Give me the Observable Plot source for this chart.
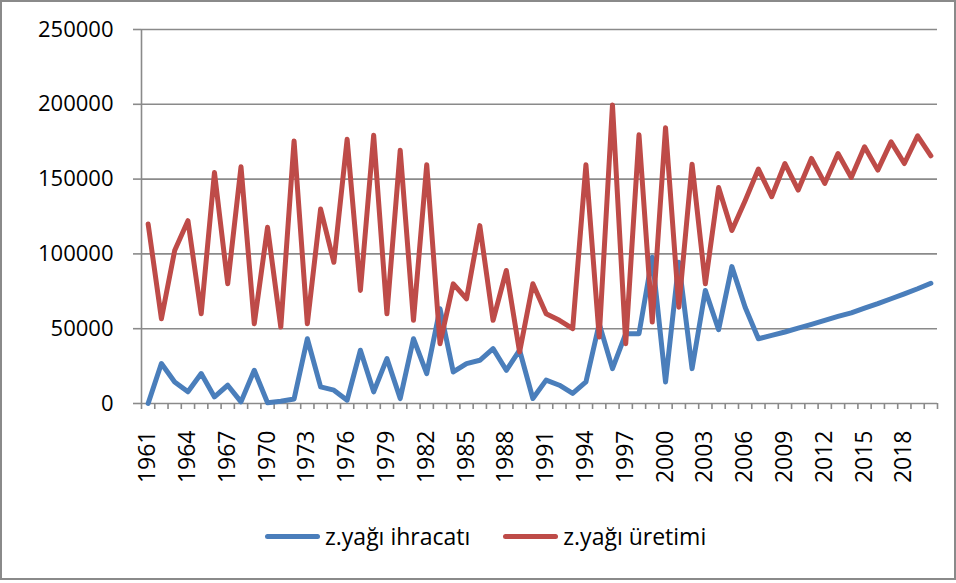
<!DOCTYPE html>
<html>
<head>
<meta charset="utf-8">
<script src="https://cdn.jsdelivr.net/npm/d3@7"></script>
<script src="https://cdn.jsdelivr.net/npm/@observablehq/plot@0.6"></script>
<style>
  html, body { margin: 0; padding: 0; background: #fff; }
  #frame {
    position: absolute; left: 0; top: 0;
    width: 956px; height: 580px; box-sizing: border-box;
    border: 2px solid #8a8a8a; background: #fff;
    font-family: "Open Sans", sans-serif; color: #000;
  }
  #chart svg { display: block; }
  #legend {
    position: absolute; left: 263px; top: 517px; height: 34px;
    display: flex; align-items: center; font-size: 23px;
  }
  .item { display: flex; align-items: center; margin-right: 33px; }
  .sw { width: 55px; height: 5px; border-radius: 3px; margin-right: 5px; }
</style>
</head>
<body>
<div id="frame">
  <div id="chart"></div>
  <div id="legend"></div>
</div>
<script>
const years = [1961,1962,1963,1964,1965,1966,1967,1968,1969,1970,
  1971,1972,1973,1974,1975,1976,1977,1978,1979,1980,
  1981,1982,1983,1984,1985,1986,1987,1988,1989,1990,
  1991,1992,1993,1994,1995,1996,1997,1998,1999,2000,
  2001,2002,2003,2004,2005,2006,2007,2008,2009,2010,
  2011,2012,2013,2014,2015,2016,2017,2018,2019,2020];

// z.yağı ihracatı (export)
const ihracat = [0,26700,14400,7800,20000,4400,12200,1100,22200,500,
  1500,3000,43300,11100,8900,2200,35600,7800,30000,3300,
  43300,20000,63300,21100,26700,28900,36700,22200,35600,3300,
  15600,12200,6700,14400,53300,23300,46700,46700,97800,14400,
  94400,23300,75600,49300,91500,64400,43300,45500,47800,50400,
  52900,55600,58200,60600,63700,66700,70000,73300,76700,80400];

// z.yağı üretimi (production)
const uretim = [120000,56700,102200,122200,60000,154400,80000,158200,53300,117800,
  51100,175500,53300,130000,94400,176700,75600,179300,60000,169300,
  55600,159600,40000,80000,70000,118900,55600,88900,34400,80000,
  60000,55600,50000,159600,44400,199600,40000,179600,54400,184400,
  64400,160000,80000,144400,115600,135600,156700,138200,160400,142700,
  163800,147100,167100,151100,171600,156000,174900,160400,178900,165600];

const seriesNames = ["z.yağı ihracatı", "z.yağı üretimi"];
const seriesColors = ["#4A7EBB", "#BE4B48"];
const yTicks = [0, 50000, 100000, 150000, 200000, 250000];
const xLabelYears = [1961,1964,1967,1970,1973,1976,1979,1982,1985,1988,1991,1994,1997,2000,2003,2006,2009,2012,2015,2018];

const exportRows = years.map((y, i) => ({year: y, value: ihracat[i]}));
const prodRows = years.map((y, i) => ({year: y, value: uretim[i]}));
const boundaries = [years[0] - 0.5, ...years.map(y => y + 0.5)];

const gray = "#8a8a8a";
const chart = Plot.plot({
  width: 952,
  height: 505,
  marginLeft: 139,
  marginRight: 17,
  marginTop: 27,
  marginBottom: 104,
  style: {fontFamily: "Open Sans, sans-serif", fontSize: "22px", color: "#000", background: "#fff"},
  x: {type: "linear", domain: [boundaries[0], boundaries[boundaries.length - 1]]},
  y: {domain: [0, 250000]},
  marks: [
    Plot.gridY(yTicks, {stroke: gray, strokeOpacity: 1, strokeWidth: 1.6}),
    Plot.ruleX([boundaries[0]], {stroke: gray, strokeWidth: 1.6}),
    Plot.axisY(yTicks, {tickSize: 8, tickPadding: 20, stroke: gray, strokeWidth: 1.6, tickFormat: d => String(d), fontSize: 22, fill: "#000", label: null}),
    Plot.axisX(boundaries, {tickSize: 6, stroke: gray, strokeWidth: 1.6, tickFormat: () => "", label: null}),
    Plot.text(xLabelYears, {x: d => d, frameAnchor: "bottom", rotate: -90, textAnchor: "end", dx: 7, dy: 27, fontSize: 23, fill: "#000", text: d => String(d)}),
    Plot.line(exportRows, {x: "year", y: "value", stroke: seriesColors[0], strokeWidth: 5, strokeLinejoin: "round", strokeLinecap: "round"}),
    Plot.line(prodRows, {x: "year", y: "value", stroke: seriesColors[1], strokeWidth: 5, strokeLinejoin: "round", strokeLinecap: "round"})
  ]
});
document.getElementById("chart").appendChild(chart);

const legend = document.getElementById("legend");
seriesNames.forEach((name, i) => {
  const item = document.createElement("div");
  item.className = "item";
  const sw = document.createElement("span");
  sw.className = "sw";
  sw.style.background = seriesColors[i];
  const label = document.createElement("span");
  label.textContent = name;
  item.appendChild(sw);
  item.appendChild(label);
  legend.appendChild(item);
});
</script>
</body>
</html>
